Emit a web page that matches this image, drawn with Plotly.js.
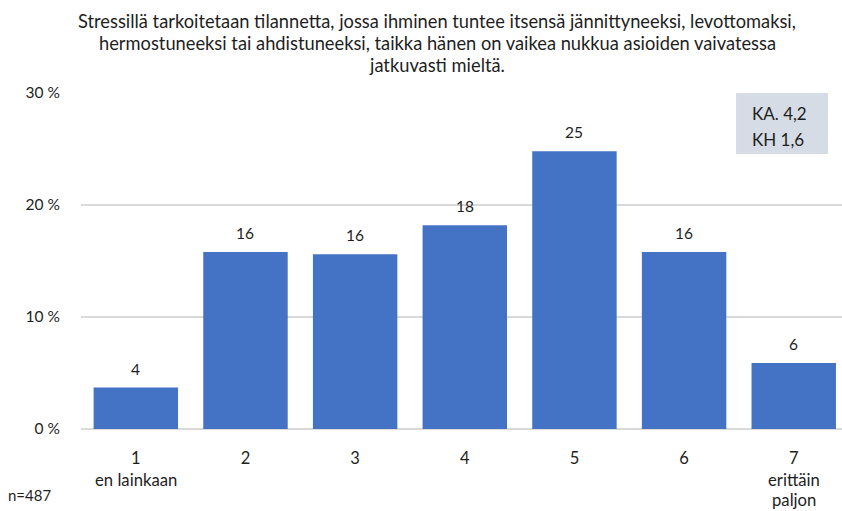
<!DOCTYPE html>
<html>
<head>
<meta charset="utf-8">
<script src="https://cdn.plot.ly/plotly-3.0.1.min.js"></script>
<style>
html,body{margin:0;padding:0;background:#fff;overflow:hidden;}
#chart{width:842px;height:511px;}
</style>
</head>
<body>
<div id="chart"></div>
<script>
// ---- data ----
const categories = ["1", "2", "3", "4", "5", "6", "7"];
const values = [3.7, 15.8, 15.6, 18.2, 24.8, 15.8, 5.9];
const tickLabels = ["1", "2", "3", "4", "5", "6", "7"];
const subLabelsLine1 = ["en lainkaan", "", "", "", "", "", "erittäin"];
const subLabelsLine2 = ["", "", "", "", "", "", "paljon"];
const yTickVals = [0, 10, 20, 30];
const yTickText = ["0 %", "10 %", "20 %", "30 %"];
const titleLines = [
  "Stressillä tarkoitetaan tilannetta, jossa ihminen tuntee itsensä jännittyneeksi, levottomaksi,",
  "hermostuneeksi tai ahdistuneeksi, taikka hänen on vaikea nukkua asioiden vaivatessa",
  "jatkuvasti mieltä."
];
const statsLines = ["KA. 4,2", "KH 1,6"];
const nLabel = "n=487";

// ---- styling ----
const FONT = "Lato, 'Open Sans', sans-serif";
const TXT = "#1e1e1e";
const BAR = "#4472c4";
const GRID = "#d9d9d9";

const W = 842, H = 511;
const plotL = 80.6, plotR = 842, plotT = 93.3, plotB = 429.3;
const plotH = plotB - plotT, plotW = plotR - plotL;
const py = (pix) => (plotB - pix) / plotH;
const px = (pix) => (pix - plotL) / plotW;

const annotations = [];

// data labels (x as category index)
values.forEach((v, i) => {
  annotations.push({
    x: i, y: v, xref: "x", yref: "y",
    text: String(Math.round(v)),
    showarrow: false, yanchor: "middle", yshift: 19,
    font: {family: FONT, size: 15.5, color: TXT}
  });
});

// sub labels under ticks
categories.forEach((c, i) => {
  if (subLabelsLine1[i]) annotations.push({
    x: i, y: py(480), xref: "x", yref: "paper", text: subLabelsLine1[i],
    showarrow: false, yanchor: "middle",
    font: {family: FONT, size: 16.7, color: TXT}
  });
  if (subLabelsLine2[i]) annotations.push({
    x: i, y: py(500.5), xref: "x", yref: "paper", text: subLabelsLine2[i],
    showarrow: false, yanchor: "middle",
    font: {family: FONT, size: 16.7, color: TXT}
  });
});

// title lines
const titleYs = [21, 43.3, 65.7];
titleLines.forEach((t, i) => {
  annotations.push({
    x: px(437), y: py(titleYs[i]), xref: "paper", yref: "paper", text: t,
    showarrow: false, xanchor: "center", yanchor: "middle",
    font: {family: FONT, size: 18.3, color: TXT}
  });
});

// stats box text
const statYs = [113.3, 139.3];
statsLines.forEach((t, i) => {
  annotations.push({
    x: px(750), y: py(statYs[i]), xref: "paper", yref: "paper", text: t,
    showarrow: false, xanchor: "left", yanchor: "middle",
    font: {family: FONT, size: 17, color: TXT}
  });
});

// n label
annotations.push({
  x: px(6), y: py(495), xref: "paper", yref: "paper", text: nLabel,
  showarrow: false, xanchor: "left", yanchor: "middle",
  font: {family: FONT, size: 15, color: TXT}
});

const trace = {
  type: "bar",
  x: categories,
  y: values,
  marker: {color: BAR},
  hoverinfo: "skip",
  width: 0.77
};

const layout = {
  width: W, height: H,
  margin: {l: plotL, r: W - plotR, t: plotT, b: H - plotB, pad: 0},
  paper_bgcolor: "#ffffff",
  plot_bgcolor: "#ffffff",
  showlegend: false,
  font: {family: FONT, color: TXT},
  xaxis: {
    type: "category",
    range: [-0.5, 6.44],
    tickvals: categories,
    ticktext: tickLabels,
    ticks: "outside", ticklen: 14, tickcolor: "rgba(0,0,0,0)",
    tickfont: {family: FONT, size: 16.5, color: TXT},
    showgrid: false, showline: false, zeroline: false,
    fixedrange: true
  },
  yaxis: {
    range: [0, 30],
    tickvals: yTickVals,
    ticktext: yTickText,
    ticks: "outside", ticklen: 17, tickcolor: "rgba(0,0,0,0)",
    tickfont: {family: FONT, size: 15.5, color: TXT},
    showgrid: true, gridcolor: GRID, gridwidth: 1.3,
    zeroline: true, zerolinecolor: GRID, zerolinewidth: 1.3,
    showline: false,
    fixedrange: true
  },
  shapes: [{
    type: "rect", xref: "paper", yref: "paper",
    x0: px(736), x1: px(828), y0: py(154.3), y1: py(93.3),
    fillcolor: "#d6dce5", line: {width: 0}, layer: "above"
  }],
  annotations: annotations
};

Plotly.newPlot("chart", [trace], layout, {displayModeBar: false, staticPlot: true});
</script>
</body>
</html>
